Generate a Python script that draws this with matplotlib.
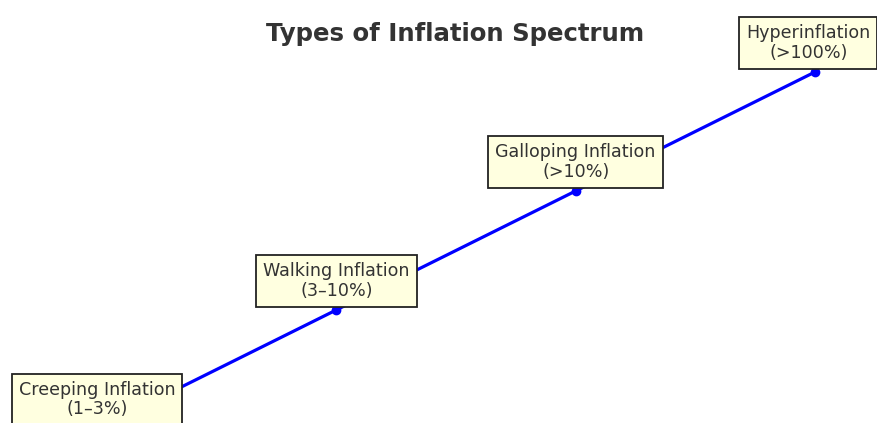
import numpy as np
import matplotlib.pyplot as plt

plt.rcParams['font.family'] = ['DejaVu Sans']

stages = ["Creeping Inflation\n(1–3%)", "Walking Inflation\n(3–10%)",
          "Galloping Inflation\n(>10%)", "Hyperinflation\n(>100%)"]
x_pos = [1, 2, 3, 4]
y_pos = [1, 2, 3, 4]

fig = plt.figure(figsize=(8.77, 4.23), dpi=100)
ax = fig.add_axes([0, 0, 1, 1])

ax.plot(x_pos, y_pos, color='blue', linewidth=2.3, marker='o', markersize=6)
for i, (x, y, label) in enumerate(zip(x_pos, y_pos, stages)):
    # la última caja se corre un poco a la izquierda para que entre en la figura
    dx = -0.028 if i == len(stages) - 1 else 0
    ax.text(x + dx, y + 0.245, label, ha='center', va='center', fontsize=12.6,
            color='#333333', linespacing=1.1,
            bbox=dict(boxstyle='square,pad=0.4', facecolor='lightyellow',
                      edgecolor='#222222', linewidth=1.3), zorder=3)

ax.set_xlim(0.595, 4.259)
ax.set_ylim(1.05, 4.605)
ax.axis('off')

fig.text(455 / 877, 1 - 34 / 423, "Types of Inflation Spectrum", ha='center',
         va='center', fontsize=17.6, fontweight='bold', color='#333333')

plt.savefig('out.png', dpi=100)
